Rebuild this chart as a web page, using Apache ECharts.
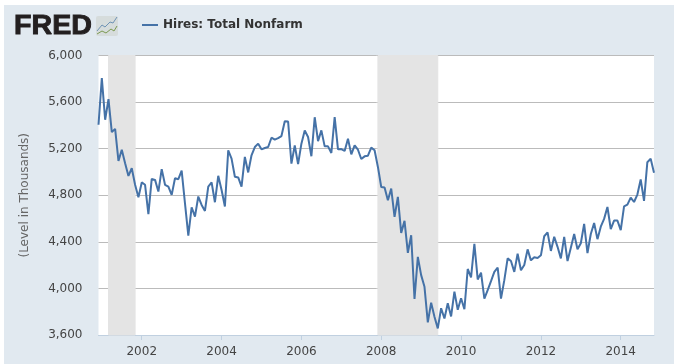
<!DOCTYPE html>
<html><head><meta charset="utf-8">
<style>html,body{margin:0;padding:0;background:#fff}#c{width:680px;height:364px}</style>
<script src="https://cdn.jsdelivr.net/npm/echarts@6/dist/echarts.min.js"></script>
</head><body><div id="c"></div>
<script>
const seriesName = 'Hires: Total Nonfarm';
const yAxisName = '(Level in Thousands)';
const startYear = 2000, startMonth = 11; // Dec 2000 (0-based month)
const hires = [
5405,5806,5448,5625,5342,5370,5095,5190,5075,4966,5032,4890,
4783,4910,4890,4637,4940,4932,4832,5024,4890,4875,4803,4946,
4938,5012,4731,4453,4697,4616,4789,4717,4665,4875,4910,4740,
4967,4845,4703,5186,5115,4959,4953,4874,5129,4996,5143,5214,
5243,5194,5206,5214,5294,5277,5290,5308,5435,5433,5072,5228,
5067,5243,5356,5300,5135,5470,5265,5357,5220,5220,5163,5471,
5194,5197,5180,5286,5151,5229,5191,5111,5134,5140,5209,5186,
5043,4871,4866,4757,4857,4614,4786,4477,4580,4306,4457,3909,
4271,4114,4014,3709,3877,3757,3657,3830,3742,3872,3759,3972,
3816,3915,3821,4167,4094,4383,4077,4136,3912,3986,4062,4142,
4179,3912,4071,4258,4235,4142,4298,4156,4201,4335,4241,4267,
4261,4284,4448,4481,4322,4443,4357,4258,4443,4235,4350,4467,
4336,4388,4554,4304,4467,4562,4423,4530,4597,4699,4510,4583,
4583,4501,4704,4719,4780,4742,4806,4936,4751,5084,5113,4994];
const recessions = [['2001-03','2001-11'],['2007-12','2009-06']];
const tickYears = [2002,2004,2006,2008,2010,2012,2014];
const yMin = 3600, yMax = 6000, yStep = 400;
const months = hires.map((_, i) => {
  const t = startYear * 12 + startMonth + i;
  return Math.floor(t / 12) + '-' + String(t % 12 + 1).padStart(2, '0');
});
const tickMonths = tickYears.map(y => y + '-01');
const isTick = (i, v) => tickMonths.includes(v);
const chart = echarts.init(document.getElementById('c'), null, {renderer:'canvas'});
chart.setOption({
  animation: false,
  backgroundColor: '#fff',
  textStyle: {fontFamily: '"DejaVu Sans"'},
  graphic: [
    {type:'rect', z:-10, silent:true, shape:{x:4,y:5,width:670,height:359}, style:{fill:'#e1e9f0'}},
    {type:'text', z:5, x:14, y:13.5, scaleX:1.06, style:{text:'FRED', fill:'#231f20', font:'900 27px "Liberation Sans"', stroke:'#231f20', lineWidth:0.9}},
    {type:'rect', z:5, shape:{x:96,y:16,width:22,height:20,r:2}, style:{fill:'#d6dcdc'}},
    {type:'polyline', z:6, shape:{points:[[97,31],[102,25],[105,27],[110,22],[113,23],[117,17]]}, style:{stroke:'#6f93b5',fill:null,lineWidth:1}},
    {type:'polyline', z:6, shape:{points:[[97,34],[102,31],[106,33],[111,29],[114,31],[117,26]]}, style:{stroke:'#7c9a52',fill:null,lineWidth:1}}
  ],
  legend: {
    left: 137, top: 14, icon: 'rect', itemWidth: 16, itemHeight: 2, itemGap: 0,
    selectedMode: false,
    textStyle: {color:'#333', fontSize:12, fontWeight:'bold', fontFamily:'"DejaVu Sans"'},
    data: [seriesName]
  },
  grid: {left:98.5, right:26, top:55.5, bottom:29, show:true, backgroundColor:'#fff', borderWidth:0},
  xAxis: {
    type:'category', data:months, boundaryGap:false,
    axisLine:{show:true, lineStyle:{color:'#c0d0e0',width:1}},
    axisTick:{show:true, length:5, interval:isTick, lineStyle:{color:'#c0d0e0'}},
    axisLabel:{color:'#444', fontSize:12, margin:11, interval:isTick, formatter:v => v.slice(0,4)},
    splitLine:{show:false}
  },
  yAxis: {
    type:'value', min:yMin, max:yMax, interval:yStep,
    name:yAxisName, nameLocation:'middle', nameGap:68, nameRotate:90,
    nameTextStyle:{color:'#666', fontSize:12},
    axisLine:{show:false}, axisTick:{show:false},
    axisLabel:{color:'#444', fontSize:12, margin:16, formatter:v => v.toLocaleString('en-US')},
    splitLine:{show:true, lineStyle:{color:'#bbbbbb',width:1}}
  },
  series: [{
    name:seriesName, type:'line', data:hires, showSymbol:false, symbol:'none',
    lineStyle:{color:'#4572a7',width:2}, itemStyle:{color:'#4572a7'}, z:3,
    markArea:{silent:true, itemStyle:{color:'#e4e4e4', borderColor:'#e4e4e4', borderWidth:1},
      data:recessions.map(r => [{xAxis:r[0]},{xAxis:r[1]}])}
  }]
});
</script></body></html>
